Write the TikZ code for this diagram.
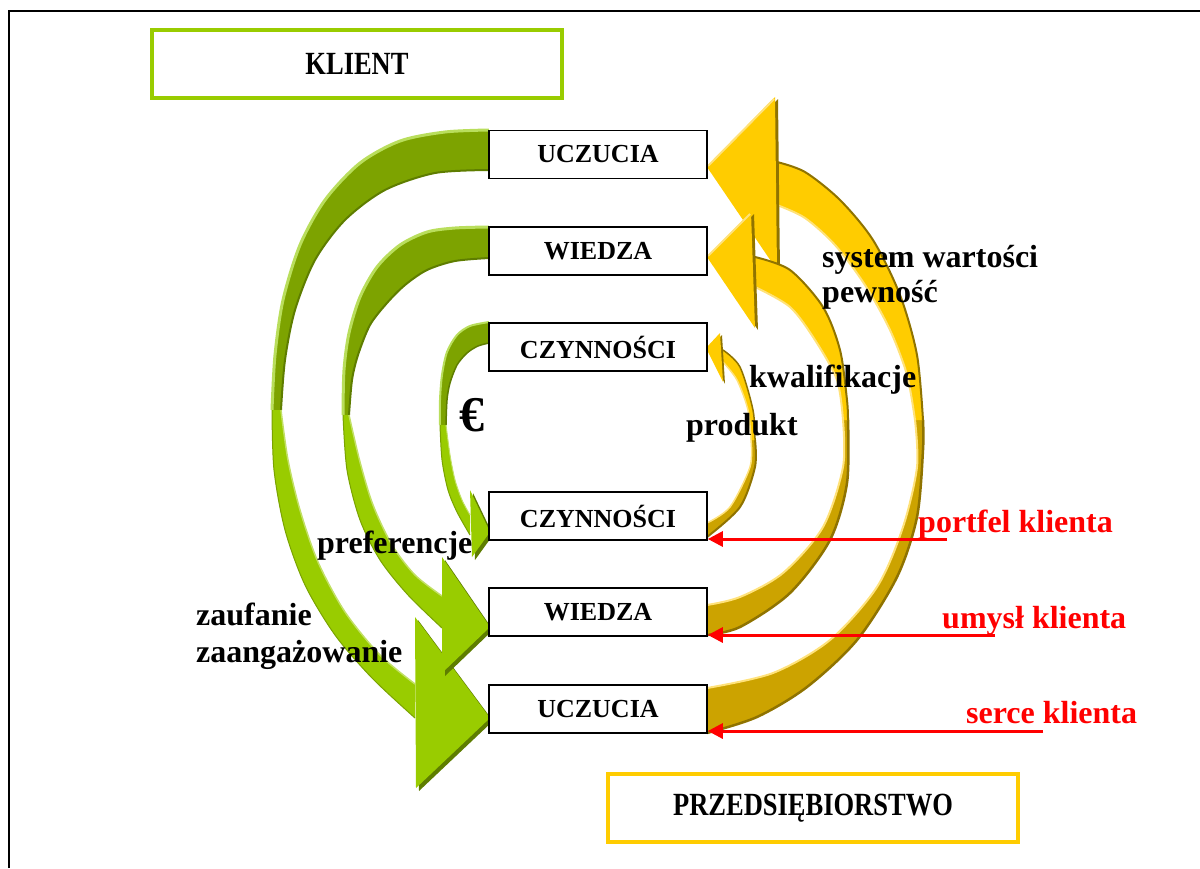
\documentclass[tikz,border=0pt]{standalone}
\usepackage{graphicx}
\usepackage{fontspec}
\setmainfont{Liberation Serif}
\usetikzlibrary{arrows.meta}

\definecolor{gdark}{HTML}{7DA300}
\definecolor{glight}{HTML}{99CC00}
\definecolor{ghigh}{HTML}{B9DE5C}
\definecolor{gshade}{HTML}{5E7D00}
\definecolor{ybright}{HTML}{FFCC00}
\definecolor{ydark}{HTML}{CCA300}
\definecolor{yhigh}{HTML}{FFE27A}
\definecolor{yshade}{HTML}{8F7300}
\definecolor{lblred}{HTML}{FF0000}

% one coloured part of a curved band: fill between two edges, then accent both edges
\newcommand\arrowband[5]{%
  \fill[#1] plot[smooth] coordinates {#2} -- plot[smooth] coordinates {#3} -- cycle;
  \draw[#4] plot[smooth] coordinates {#2};
  \draw[#5] plot[smooth] coordinates {#3};}
% triangular arrow head with a drop shadow
\newcommand\tiphead[6]{%
  \fill[#2, shift={#6}] #3 -- #4 -- #5 -- cycle;
  \fill[#1] #3 -- #4 -- #5 -- cycle;}
\newcommand\stretchcaps[1]{\scalebox{1}[1.22]{#1}}

\begin{document}
\begin{tikzpicture}[x=1pt,y=-1pt,
  stage/.style={draw=black, line width=1.6pt, fill=white, minimum width=218pt,
    minimum height=48pt, inner sep=0pt, font=\fontsize{26}{30}\selectfont\bfseries},
  sidebox/.style={line width=4pt, fill=white, minimum width=410pt, minimum height=68pt,
    inner sep=0pt, font=\fontsize{26.5}{30}\selectfont\bfseries},
  lbl/.style={anchor=base west, inner sep=0pt, font=\fontsize{32}{36}\selectfont\bfseries},
  redlbl/.style={lbl, text=lblred},
  pointer/.style={draw=lblred, line width=3pt, -{Triangle[length=15pt,width=15pt]}}]
\useasboundingbox (0,0) rectangle (1200,868);

% page frame
\draw[line width=2pt] (9,868) -- (9,11) -- (1200,11);

% ---------- green bands (client side) ----------
% outer
\arrowband{gdark}
  {(489,130) (445,132) (400,141) (360,163) (325,200) (300,245) (283,300) (275,355) (272,410)}
  {(281,410) (285,360) (295,310) (315,260) (345,220) (385,190) (435,173) (489,170)}
  {ghigh, line width=3pt}{gshade, line width=2pt}
\arrowband{glight}
  {(272,410) (274,470) (285,530) (305,585) (335,635) (372,678) (415,718)}
  {(415,684) (380,655) (345,612) (318,562) (300,510) (288,460) (281,410)}
  {glight!80!black, line width=1pt}{white!40!glight, line width=1.5pt}
\tiphead{glight}{gshade}{(415,617)}{(490,718)}{(416,788)}{(3,3)}
% middle
\arrowband{gdark}
  {(489,227) (455,228) (427,232) (400,245) (377,267) (360,297) (349,333) (344,370) (343,415)}
  {(349,415) (352,380) (358,355) (370,325) (387,303) (405,285) (427,270) (455,261) (489,258)}
  {ghigh, line width=3pt}{gshade, line width=2pt}
\arrowband{glight}
  {(343,415) (347,470) (360,520) (380,560) (408,595) (442,628)}
  {(442,596) (415,575) (392,545) (373,505) (360,462) (349,415)}
  {glight!80!black, line width=1pt}{white!40!glight, line width=1.5pt}
\tiphead{glight}{gshade}{(442,557)}{(490,627)}{(442,673)}{(3,3)}
% inner
\arrowband{gdark}
  {(489,322) (470,326) (457,335) (447,352) (442,375) (440,400) (440,425)}
  {(446,425) (447,400) (450,383) (457,365) (467,353) (478,346) (489,343)}
  {ghigh, line width=2pt}{gshade, line width=1.5pt}
\arrowband{glight}
  {(440,425) (442,460) (448,490) (457,512) (470,535)}
  {(470,515) (462,500) (455,480) (450,455) (446,425)}
  {glight!80!black, line width=1pt}{white!40!glight, line width=1pt}
\tiphead{glight}{gshade}{(470,490)}{(490,532)}{(472,557)}{(3,3)}

% ---------- yellow bands (company side) ----------
% outer
\arrowband{ydark}
  {(923,420) (923,450) (917,517) (897,577) (857,640) (807,687) (757,717) (707,733)}
  {(707,688) (773,673) (830,640) (877,587) (903,527) (917,467) (915,420)}
  {yshade, line width=2.5pt}{yhigh, line width=2pt}
\arrowband{ybright}
  {(777,162) (805,172) (840,200) (873,240) (900,295) (917,355) (923,420)}
  {(915,420) (907,375) (890,330) (865,285) (835,245) (805,218) (777,205)}
  {yshade, line width=2pt}{yhigh, line width=2pt}
\tiphead{ybright}{yshade}{(707,167)}{(775,97)}{(777,270)}{(3,2)}
\draw[yhigh, line width=2pt] (708,166) -- (774,99);
% middle
\arrowband{ydark}
  {(848,420) (847,483) (830,540) (790,593) (740,627) (707,635)}
  {(707,605) (740,597) (783,573) (823,527) (843,467) (843,420)}
  {yshade, line width=2.5pt}{yhigh, line width=2pt}
\arrowband{ybright}
  {(755,257) (790,270) (823,307) (840,350) (847,400) (848,420)}
  {(843,420) (837,380) (815,340) (790,307) (755,287)}
  {yshade, line width=2pt}{yhigh, line width=2pt}
\tiphead{ybright}{yshade}{(707,257)}{(751,212)}{(755,328)}{(3,2)}
\draw[yhigh, line width=2pt] (708,256) -- (750,214);
% inner
\arrowband{ydark}
  {(755,440) (755,467) (740,507) (707,537)}
  {(707,523) (730,507) (750,467) (751,440)}
  {yshade, line width=2pt}{yhigh, line width=1.5pt}
\arrowband{ybright}
  {(723,350) (740,367) (753,410) (755,440)}
  {(751,440) (748,410) (737,380) (723,362)}
  {yshade, line width=1.5pt}{yhigh, line width=1.5pt}
\tiphead{ybright}{yshade}{(706,348)}{(720,333)}{(723,382)}{(2,2)}

% ---------- stages ----------
\node[stage] (uczTop) at (598,154.5) {UCZUCIA};
\node[stage] (wieTop) at (598,251) {WIEDZA};
\node[stage] (czyTop) at (598,347) {CZYNNOŚCI};
\node[stage] (czyBot) at (598,516) {CZYNNOŚCI};
\node[stage] (wieBot) at (598,612) {WIEDZA};
\node[stage] (uczBot) at (598,709) {UCZUCIA};

\node[sidebox, draw=glight] (klient) at (357,64) {\stretchcaps{KLIENT}};
\node[sidebox, draw=ybright] (firma) at (813,808) {\stretchcaps{PRZEDSIĘBIORSTWO}};

% ---------- labels ----------
\node[lbl] (sysw) at (822,267) {system wartości};
\node[lbl] (pewn) at (822,302) {pewność};
\node[lbl] (kwal) at (749,387) {kwalifikacje};
\node[lbl] (prod) at (686,435) {produkt};
\node[lbl, font=\fontsize{50}{54}\selectfont\bfseries] (euro) at (459,431) {€};
\node[lbl] (pref) at (317,553) {preferencje};
\node[lbl] (zauf) at (196,625) {zaufanie};
\node[lbl] (zaan) at (196,662) {zaangażowanie};

\node[redlbl] (portfel) at (918,532) {portfel klienta};
\node[redlbl] (umysl) at (942,628) {umysł klienta};
\node[redlbl] (serce) at (966,723) {serce klienta};

% ---------- pointers ----------
\coordinate (pPortfel) at (947,539);
\coordinate (pUmysl) at (995,635);
\coordinate (pSerce) at (1043,731);
\draw[pointer] (pPortfel) -- (czyBot.east |- pPortfel);
\draw[pointer] (pUmysl) -- (wieBot.east |- pUmysl);
\draw[pointer] (pSerce) -- (uczBot.east |- pSerce);
\end{tikzpicture}
\end{document}
